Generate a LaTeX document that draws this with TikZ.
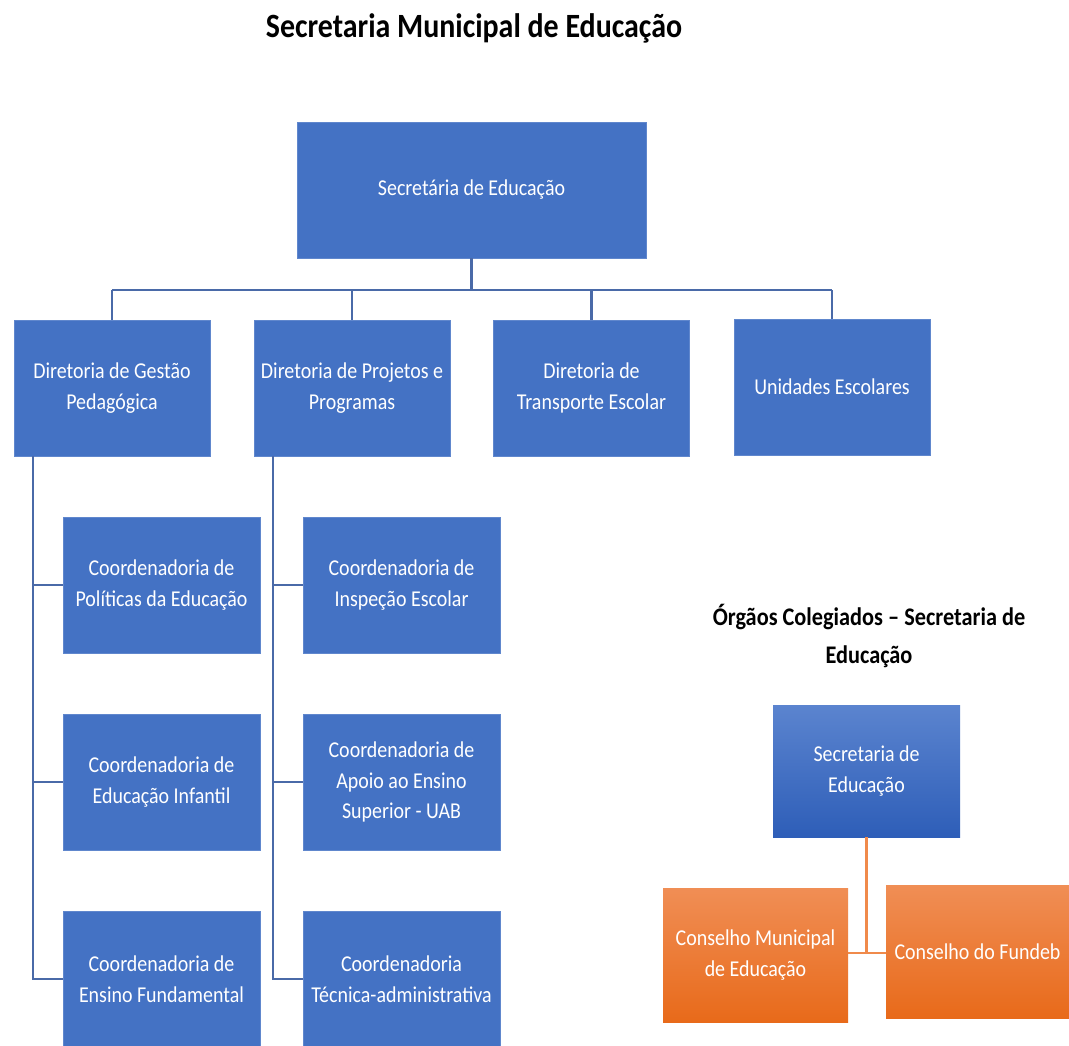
\documentclass[tikz,border=0pt]{standalone}
\usepackage{fontspec}
\setmainfont[FakeStretch=0.88]{Carlito}
\usetikzlibrary{positioning}
\definecolor{boxblue}{HTML}{4472C4}
\definecolor{lineblue}{HTML}{4A6AA8}
\definecolor{orline}{HTML}{F08A4B}
\definecolor{ortop}{HTML}{F08E55}
\definecolor{orbot}{HTML}{E86A1A}
\definecolor{bltop}{HTML}{5B84CF}
\definecolor{blbot}{HTML}{2E5EB8}
\tikzset{
  bbox/.style={fill=boxblue, draw=boxblue!85!white, line width=0.5pt, text=white, align=center, inner sep=0pt, outer sep=0pt,
    font=\fontsize{17}{23}\selectfont},
  lvtwo/.style={bbox, minimum width=147pt, minimum height=102pt},
  lvthree/.style={bbox, minimum width=147.75pt, minimum height=102pt},
  obox/.style={top color=ortop, bottom color=orbot, draw=none, text=white, align=center, inner sep=0pt, outer sep=0pt,
    font=\fontsize{17}{23}\selectfont},
  conn/.style={draw=lineblue, line width=1.9pt},
  oconn/.style={draw=orline, line width=1.7pt},
  ttl/.style={font=\bfseries\fontsize{25.5}{28}\selectfont, text=black, inner sep=0pt},
  ttltwo/.style={font=\bfseries\fontsize{19}{29}\selectfont, text=black, align=center, inner sep=0pt}
}
\begin{document}
\begin{tikzpicture}[x=0.75pt,y=-0.75pt]
\useasboundingbox (0,0) rectangle (1069,1045);
\fill[white] (0,0) rectangle (1069,1045);

\node[ttl] (title) at (474,28) {Secretaria Municipal de Educação};

% top
\node[bbox, minimum width=261.75pt, minimum height=102pt] (top) at (471.5,190) {Secretária de Educação};

% level 2
\node[lvtwo] (d1) at (112,388) {Diretoria de Gestão\\Pedagógica};
\node[lvtwo] (d2) at (352,388) {Diretoria de Projetos e\\Programas};
\node[lvtwo] (d3) at (591.5,388) {Diretoria de\\Transporte Escolar};
\node[lvtwo] (d4) at (832,387) {Unidades Escolares};

% level 3
\node[lvthree] (c11) at (161.5,585) {Coordenadoria de\\Políticas da Educação};
\node[lvthree] (c12) at (161.5,782) {Coordenadoria de\\Educação Infantil};
\node[lvthree] (c13) at (161.5,979) {Coordenadoria de\\Ensino Fundamental};
\node[lvthree] (c21) at (401.5,585) {Coordenadoria de\\Inspeção Escolar};
\node[lvthree] (c22) at (401.5,782) {Coordenadoria de\\Apoio ao Ensino\\Superior - UAB};
\node[lvthree] (c23) at (401.5,979) {Coordenadoria\\Técnica-administrativa};

% connectors top
\coordinate (bus) at (0,290);
\draw[conn] (top.south) -- (top.south |- bus);
\draw[conn] (d1.north |- bus) -- (d4.north |- bus);
\foreach \d in {d1,d2,d3,d4} \draw[conn] (\d.north |- bus) -- (\d.north);

% trunks
\coordinate (t1) at (33,0);
\coordinate (t2) at (273,0);
\draw[conn] (d1.south -| t1) -- (c13.west -| t1) -- (c13.west);
\draw[conn] (c11.west -| t1) -- (c11.west);
\draw[conn] (c12.west -| t1) -- (c12.west);
\draw[conn] (d2.south -| t2) -- (c23.west -| t2) -- (c23.west);
\draw[conn] (c21.west -| t2) -- (c21.west);
\draw[conn] (c22.west -| t2) -- (c22.west);

% right section
\node[ttltwo] (t2title) at (869,636) {Órgãos Colegiados – Secretaria de\\Educação};
\node[top color=bltop, bottom color=blbot, draw=none, text=white, align=center, inner sep=0pt, outer sep=0pt,
  font=\fontsize{17}{23}\selectfont, minimum width=140.25pt, minimum height=99pt] (s2) at (866.5,771) {Secretaria de\\Educação};
\node[obox, minimum width=138.75pt, minimum height=100.5pt] (o1) at (755.5,955) {Conselho Municipal\\de Educação};
\node[obox, minimum width=137.25pt, minimum height=99.75pt] (o2) at (977.5,951.5) {Conselho do Fundeb};
\coordinate (j) at (0,953);
\draw[oconn] (s2.south) -- (s2.south |- j);
\draw[oconn] (o1.east |- j) -- (o2.west |- j);
\end{tikzpicture}
\end{document}
